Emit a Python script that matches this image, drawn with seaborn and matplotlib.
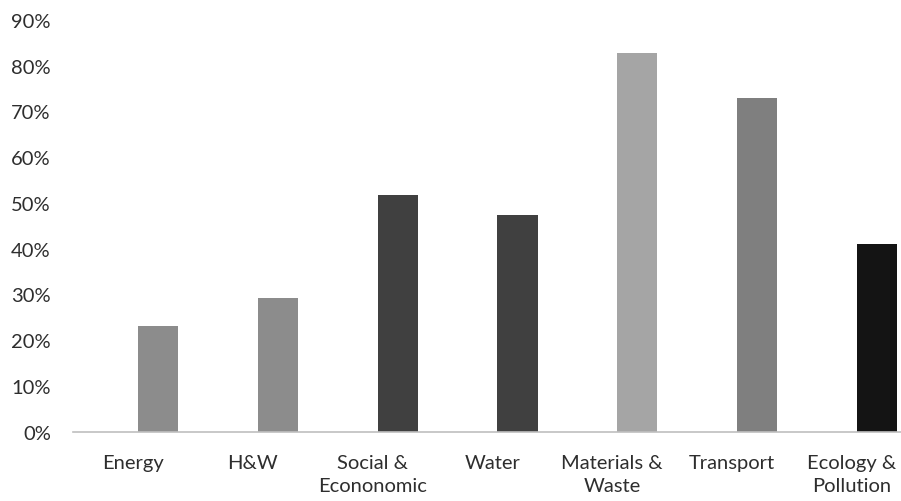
import pandas as pd
import numpy as np
import matplotlib
matplotlib.use('Agg')
import matplotlib.pyplot as plt
import seaborn as sns
from matplotlib.ticker import PercentFormatter

sns.set_style('white')
plt.rcParams['font.family'] = ['Lato', 'DejaVu Sans']

# Data
categories = ['Energy', 'H&W', 'Social &\nEcononomic', 'Water',
              'Materials &\nWaste', 'Transport', 'Ecology &\nPollution']
values = [0.231, 0.292, 0.517, 0.474, 0.828, 0.729, 0.410]
bar_colors = ['#8c8c8c', '#8c8c8c', '#404040', '#404040',
              '#a5a5a5', '#7f7f7f', '#141414']

# the chart is a clustered column with an empty first series
df = pd.DataFrame({
    'Category': categories * 2,
    'Series': ['blank'] * len(categories) + ['score'] * len(categories),
    'Value': [np.nan] * len(categories) + values,
})

fig = plt.figure(figsize=(9.01, 5.02), dpi=100)
ax = fig.add_axes([73 / 901, 1 - 432.7 / 502, 838.6 / 901, (432.7 - 21) / 502])

sns.barplot(data=df, x='Category', y='Value', hue='Series',
            width=0.84, gap=0.2, ax=ax, legend=False,
            palette=['white', '#808080'], linewidth=0)

for patch, c in zip(ax.containers[1], bar_colors):
    patch.set_facecolor(c)

ax.set_ylim(0, 0.9)
ax.set_yticks(np.arange(0, 0.91, 0.1))
ax.yaxis.set_major_formatter(PercentFormatter(1.0, decimals=0))
ax.set_xlabel('')
ax.set_ylabel('')

for s in ['top', 'right', 'left']:
    ax.spines[s].set_visible(False)
ax.spines['bottom'].set_color('#bfbfbf')
ax.spines['bottom'].set_linewidth(1.2)

ax.tick_params(axis='both', length=0, labelsize=14.5, colors='#2e2e2e')
ax.tick_params(axis='y', pad=16)
ax.tick_params(axis='x', pad=16)
for lbl in ax.get_xticklabels():
    lbl.set_linespacing(1.4)

fig.savefig('out.png', dpi=100)
